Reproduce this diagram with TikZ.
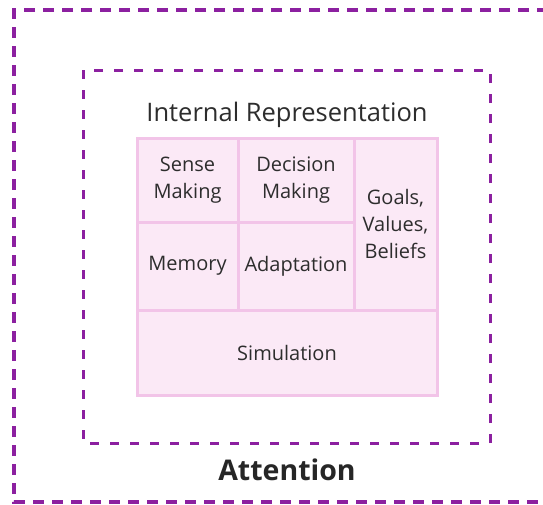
\documentclass[tikz,border=0pt]{standalone}
\usepackage{fontspec}
\setmainfont{Open Sans}
\definecolor{dashpurple}{RGB}{140,32,160}
\definecolor{cellfill}{RGB}{251,233,246}
\definecolor{cellline}{RGB}{242,196,232}
\definecolor{txt}{RGB}{45,45,45}
\tikzset{
  outerdash/.style={draw=dashpurple,line width=3.5pt,dash pattern=on 11pt off 8pt},
  innerdash/.style={draw=dashpurple,line width=3pt,dash pattern=on 9pt off 11pt},
  cell/.style={draw=cellline,fill=cellfill,line width=3pt,inner sep=0pt,align=center,
    text=txt,font=\fontsize{20}{27}\selectfont},
}
\begin{document}
\begin{tikzpicture}[x=1pt,y=-1pt]
\useasboundingbox (0,0) rectangle (543,504);
\fill[white] (0,0) rectangle (543,504);
% outer dashed box (right side beyond the picture)
\coordinate (otr) at (548,10);
\coordinate (otl) at (14,10);
\coordinate (obl) at (14,502);
\coordinate (obr) at (548,502);
\draw[outerdash] (otr) -- (otl) -- (obl) -- (obr);
\clip (0,0) rectangle (543,504);
% inner dashed box
\coordinate (itl) at (83,70);
\coordinate (ibr) at (490,443);
\draw[innerdash] (itl) rectangle (ibr);
% title
\node[text=txt,font=\fontsize{25.5}{30}\selectfont] (title) at (287,115) {Internal Representation};
% cells
\node[cell,minimum width=300pt,minimum height=85pt] (sim) at (287,352.5) {Simulation};
\node[cell,minimum width=83pt,minimum height=172pt] (goals) at (395.5,224) {Goals,\\Values,\\Beliefs};
\node[cell,minimum width=101pt,minimum height=84pt] (sense) at (187.5,180) {Sense\\Making};
\node[cell,minimum width=116pt,minimum height=84pt] (decision) at (296,180) {Decision\\Making};
\node[cell,minimum width=101pt,minimum height=88pt] (memory) at (187.5,266) {Memory};
\node[cell,minimum width=116pt,minimum height=88pt] (adapt) at (296,266) {Adaptation};
% attention label
\node[text=black!85,font=\fontsize{28.5}{32}\bfseries\selectfont] (attn) at (287,470) {Attention};
\end{tikzpicture}
\end{document}
